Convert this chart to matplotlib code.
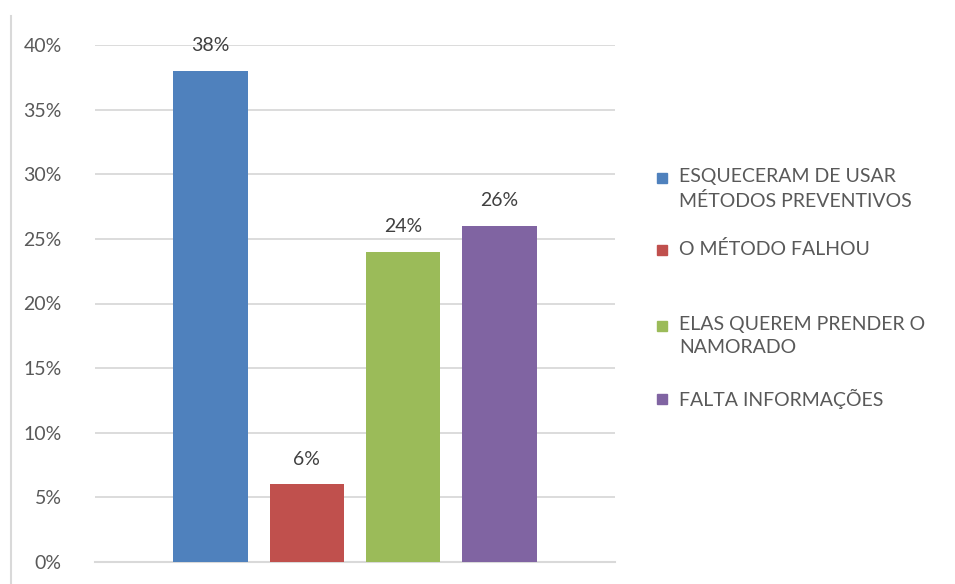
import matplotlib.pyplot as plt
from matplotlib.patches import Rectangle
from matplotlib.lines import Line2D

labels = ["ESQUECERAM DE USAR\nMÉTODOS PREVENTIVOS", "O MÉTODO FALHOU",
          "ELAS QUEREM PRENDER O\nNAMORADO", "FALTA INFORMAÇÕES"]
values = [0.38, 0.06, 0.24, 0.26]
colors = ["#4F81BD", "#C0504D", "#9BBB59", "#8064A2"]
yticks = [0, 0.05, 0.10, 0.15, 0.20, 0.25, 0.30, 0.35, 0.40]

plt.rcParams['font.family'] = ['Lato', 'DejaVu Sans']

W, H = 955, 584
fig = plt.figure(figsize=(W / 100, H / 100), dpi=100)
ax = fig.add_axes([95 / W, (H - 562) / H, (615 - 95) / W, (562 - 45) / H])

x = list(range(len(values)))
ax.bar(x, values, width=0.77, color=colors, zorder=3)
for xi, v in zip(x, values):
    ax.text(xi, v + 0.013, f"{v * 100:.0f}%", ha="center", va="bottom",
            fontsize=14, color="#404040")

ax.set_xlim(-1.2, 4.2)
ax.set_ylim(0, 0.40)
ax.set_yticks(yticks)
ax.set_yticklabels([f"{t * 100:.0f}%" for t in yticks])
ax.set_xticks([])
ax.yaxis.grid(True, color="#D9D9D9", linewidth=1.3, zorder=0)
ax.tick_params(axis="y", length=0, pad=24, labelsize=14, labelcolor="#595959")
for s in ["top", "right", "left"]:
    ax.spines[s].set_visible(False)
ax.spines["bottom"].set_color("#D9D9D9")
ax.spines["bottom"].set_linewidth(1.5)

# chart area border (left edge only visible)
fig.add_artist(Line2D([11 / W, 11 / W], [0, (H - 16) / H], color="#D9D9D9",
                      linewidth=1.5, transform=fig.transFigure))

# legend drawn by hand so the marker sits on the first line
tops = [178, 250, 326, 399]
for lab, col, ty in zip(labels, colors, tops):
    fig.add_artist(Rectangle((657 / W, (H - ty - 5) / H), 10 / W, 10 / H,
                             color=col, transform=fig.transFigure))
    fig.text(679 / W, (H - ty + 10) / H, lab, ha="left", va="top", fontsize=14,
             color="#595959", linespacing=1.45)

fig.savefig("out.png", dpi=100)
